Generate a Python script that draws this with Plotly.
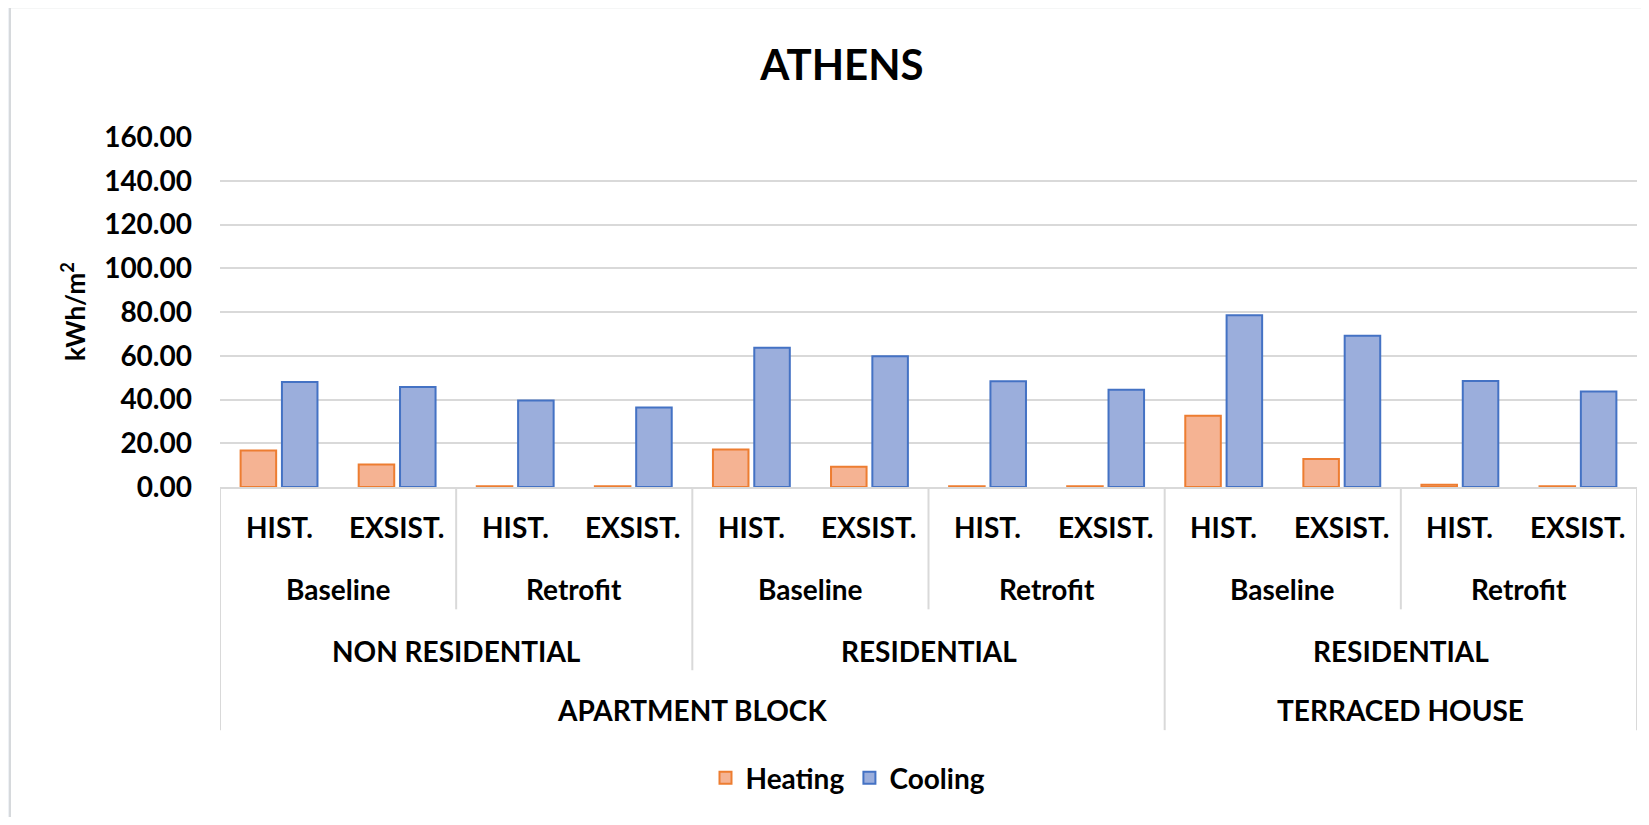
import plotly.graph_objects as go

# ---------------- data ----------------
level4 = ["APARTMENT BLOCK"] * 8 + ["TERRACED HOUSE"] * 4
level3 = ["NON RESIDENTIAL"] * 4 + ["RESIDENTIAL"] * 4 + ["RESIDENTIAL"] * 4
level2 = ["Baseline", "Baseline", "Retrofit", "Retrofit"] * 3
level1 = ["HIST.", "EXSIST."] * 6

heating = [16.7, 10.3, 0.3, 0.3, 17.1, 9.3, 0.4, 0.3, 32.6, 12.8, 1.0, 0.3]
cooling = [48.0, 45.7, 39.5, 36.3, 63.7, 59.8, 48.3, 44.5, 78.5, 69.1, 48.5, 43.7]

y_ticks = [0, 20, 40, 60, 80, 100, 120, 140, 160]
y_tick_text = [f"{v:.2f}" for v in y_ticks]

# ---------------- layout constants (pixels, page coords) ----------------
OFF = 8                      # default body margin of the html page
W, H = 1649 - 2 * OFF, 825 - 2 * OFF
PL, PR = 220, 1637           # plot left/right (page px)
PT, PB = 137, 487.5          # plot top/bottom (page px)
FONT = "Lato"
GRID = "#D9D9D9"
FS = 28

def py(p):
    """page pixel y -> paper y"""
    return (PB - p) / (PB - PT)

def px(p):
    return (p - PL) / (PR - PL)

x = list(range(len(level1)))

fig = go.Figure()
fig.add_trace(go.Bar(
    x=x, y=heating, name="Heating",
    marker=dict(color="#F5B393", line=dict(color="#ED7D31", width=2)),
))
fig.add_trace(go.Bar(
    x=x, y=cooling, name="Cooling",
    marker=dict(color="#9BAEDC", line=dict(color="#4472C4", width=2)),
))

# ---------------- hierarchical category axis ----------------
annotations = []
shapes = []

row_centers = {1: 528, 2: 590, 3: 652, 4: 711}
row_bottoms = {1: 550, 2: 610, 3: 671, 4: 731}
levels = {1: level1, 2: level2, 3: level3, 4: level4}
n = len(level1)

def key(i, lev):
    return tuple(levels[L][i] for L in range(4, lev - 1, -1))

for lev in (1, 2, 3, 4):
    start = 0
    for i in range(1, n + 1):
        if i == n or key(i, lev) != key(start, lev):
            annotations.append(dict(
                x=(start + i - 1) / 2, xref="x", y=py(row_centers[lev]), yref="paper",
                text=levels[lev][start], showarrow=False,
                xanchor="center", yanchor="middle",
                font=dict(family=FONT, size=FS, color="black", weight="bold"),
            ))
            start = i

for b in range(0, n + 1):
    if b == 0 or b == n:
        depth = 4
    else:
        depth = None
        for lev in (4, 3, 2):
            if key(b, lev) != key(b - 1, lev):
                depth = lev
                break
        if depth is None:
            continue
    shapes.append(dict(
        type="line", xref="x", yref="paper",
        x0=b - 0.5, x1=b - 0.5, y0=0, y1=py(row_bottoms[depth]),
        line=dict(color=GRID, width=2),
    ))

# chart-area frame
shapes.insert(0, dict(
    type="rect", xref="paper", yref="paper", layer="below",
    x0=px(10), x1=px(1700), y0=py(7), y1=py(900),
    fillcolor="white", line=dict(color="#D6D9DC", width=2),
))

# y axis title
annotations.append(dict(
    x=px(73), xref="paper", y=0.5, yref="paper",
    text="kWh/m<sup>2</sup>", textangle=-90, showarrow=False,
    xanchor="center", yanchor="middle",
    font=dict(family=FONT, size=26, color="black", weight="bold"),
))

fig.update_layout(
    width=W, height=H,
    margin=dict(l=PL - OFF, r=(W + OFF) - PR, t=PT - OFF, b=(H + OFF) - PB, autoexpand=False),
    paper_bgcolor="#EEF1F5",
    plot_bgcolor="rgba(0,0,0,0)",
    barmode="group",
    bargap=0.30,
    bargroupgap=0.14,
    title=dict(
        text="ATHENS", x=(842 - OFF) / W, xanchor="center",
        y=1 - (65 - OFF) / H, yanchor="middle",
        font=dict(family=FONT, size=42, color="black", weight="bold"),
    ),
    font=dict(family=FONT, color="black"),
    xaxis=dict(
        range=[-0.5, n - 0.5], showticklabels=False, ticks="",
        showgrid=False, zeroline=False,
        showline=True, linecolor=GRID, linewidth=2,
        fixedrange=True,
    ),
    yaxis=dict(
        range=[0, 160], tickvals=y_ticks, ticktext=y_tick_text,
        tickfont=dict(family=FONT, size=FS, color="black", weight="bold"),
        showgrid=True, gridcolor=GRID, gridwidth=2,
        zeroline=False, showline=False, ticks="",
        ticklabelstandoff=27,
        fixedrange=True,
    ),
    legend=dict(
        orientation="h", x=px(848), xanchor="center",
        y=py(779), yanchor="middle",
        font=dict(family=FONT, size=FS, color="black", weight="bold"),
        bgcolor="rgba(0,0,0,0)",
        traceorder="normal",
    ),
    annotations=annotations,
    shapes=shapes,
)

fig.write_html("out.html")
